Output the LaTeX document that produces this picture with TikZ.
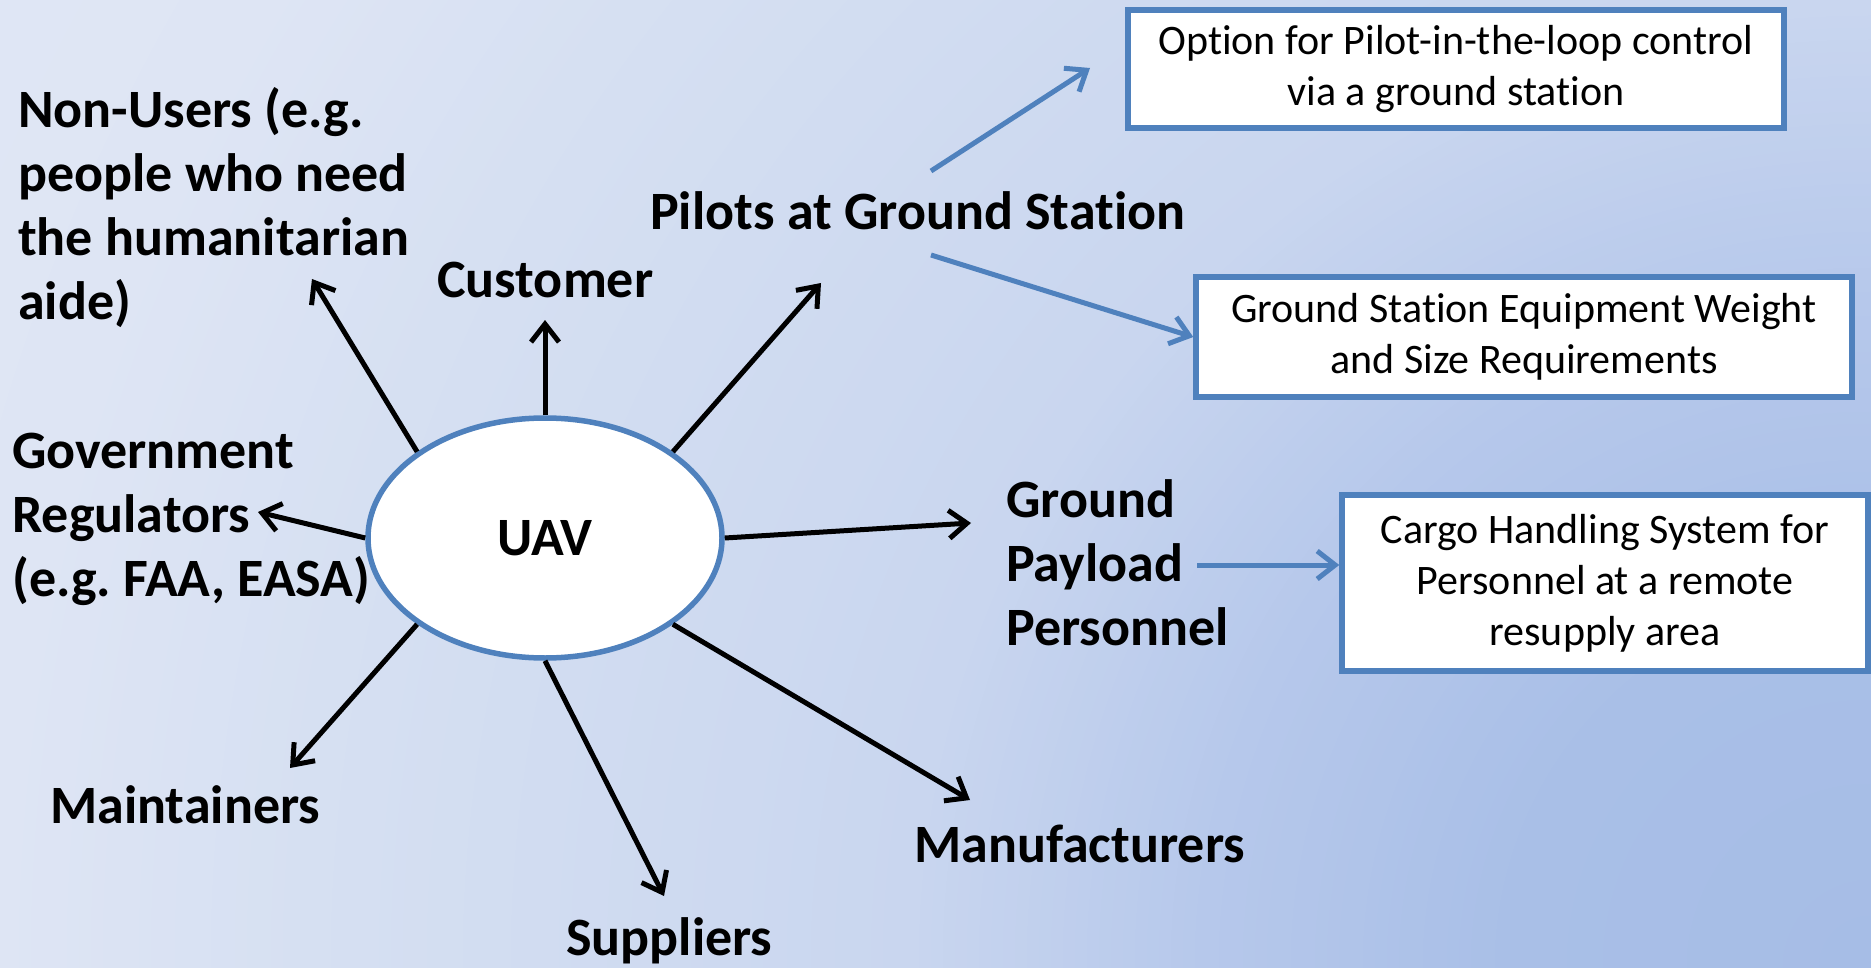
\documentclass[tikz,border=0pt]{standalone}
\usepackage{fontspec}
\setmainfont{Carlito}[Ligatures=NoCommon]
\usetikzlibrary{arrows.meta,shapes.geometric,calc}
\definecolor{oblue}{HTML}{4F81BD}
\newcommand{\biglbl}{\fontsize{54}{64}\selectfont\bfseries}
\newcommand{\boxtxt}{\fontsize{42}{51}\selectfont}
\frenchspacing
\begin{document}
\begin{tikzpicture}[x=1pt,y=-1pt,
  lbl/.style={font=\biglbl, inner sep=0pt, anchor=base west},
  blackarrow/.style={line width=5pt, draw=black, -{Straight Barb[length=18pt,width=28pt]}},
  bluearrow/.style={line width=5pt, draw=oblue, -{Straight Barb[length=18pt,width=28pt]}},
  infobox/.style={draw=oblue, line width=5.5pt, fill=white, font=\boxtxt, align=center, inner sep=0pt}]
\useasboundingbox (0,0) rectangle (1871,968);
% background: radial gradient from the bottom right corner
\begin{scope}
\clip (0,0) rectangle (1871,968);
\foreach \d in {2200,2188,...,0} {
  \pgfmathtruncatemacro{\k}{(\d>369)+(\d>669)+(\d>969)+(\d>1569)+(\d>1870)}
  \pgfmathsetmacro{\f}{(\d-{0,370,670,970,1570,1871}[\k])/({370,300,300,600,301,329}[\k])}
  \pgfmathtruncatemacro{\R}{{166,169,182,201,214,222}[\k]+{3,13,19,13,8,2}[\k]*\f+0.5}
  \pgfmathtruncatemacro{\G}{{189,191,200,214,224,229}[\k]+{2,9,14,10,5,2}[\k]*\f+0.5}
  \pgfmathtruncatemacro{\B}{{230,231,235,239,242,244}[\k]+{1,4,4,3,2,1}[\k]*\f+0.5}
  \definecolor{bgtmp}{RGB}{\R,\G,\B}
  \fill[bgtmp] (1871,968) circle (\d);
}
\end{scope}

% central node
\node[ellipse, draw=oblue, line width=5.5pt, fill=white, minimum width=354pt, minimum height=240pt, inner sep=0pt, font=\biglbl] (uav) at (545,538) {UAV};

% stakeholder labels
\node[lbl] (nonusers) at (18,128) {\begin{tabular}[t]{@{}l@{}}Non-Users (e.g.\\people who need\\the humanitarian\\aide)\end{tabular}};
\node[lbl] (gov) at (12,468) {\begin{tabular}[t]{@{}l@{}}Government\\Regulators\\(e.g. FAA, EASA)\end{tabular}};
\node[lbl] (customer) at (437,298) {Customer};
\node[lbl] (pilots) at (650,230) {Pilots at Ground Station};
\node[lbl] (payload) at (1006,517) {\begin{tabular}[t]{@{}l@{}}Ground\\Payload\\Personnel\end{tabular}};
\node[lbl] (maint) at (50,823) {Maintainers};
\node[lbl] (suppl) at (566,955) {Suppliers};
\node[lbl] (manuf) at (914,862) {Manufacturers};

% boxes
\node[infobox, minimum width=656pt, minimum height=118pt] (box1) at (1456,69) {Option for Pilot-in-the-loop control\\via a ground station};
\node[infobox, minimum width=656pt, minimum height=120pt] (box2) at (1524,337) {Ground Station Equipment Weight\\and Size Requirements};
\node[infobox, minimum width=526pt, minimum height=176pt] (box3) at (1605,583) {Cargo Handling System for\\Personnel at a remote\\resupply area};

% arrow end points
\coordinate (tNon) at (312,279);
\coordinate (tCust) at (545,320);
\coordinate (tPil) at (821,283);
\coordinate (tGov) at (258,512);
\coordinate (tPay) at (971,523);
\coordinate (tMai) at (290,768);
\coordinate (tSup) at (664,896);
\coordinate (tMan) at (970,800);

\draw[blackarrow] (uav.146) -- (tNon);
\draw[blackarrow] (uav.90) -- (tCust);
\draw[blackarrow] (uav.34) -- (tPil);
\draw[blackarrow] (uav.180) -- (tGov);
\draw[blackarrow] (uav.0) -- (tPay);
\draw[blackarrow] (uav.214) -- (tMai);
\draw[blackarrow] (uav.270) -- (tSup);
\draw[blackarrow] (uav.326) -- (tMan);

% blue arrows
\coordinate (pA) at (931,171);
\coordinate (tA) at (1090,68);
\coordinate (pB) at (931,255);
\coordinate (pC) at (1197,565);
\draw[bluearrow] (pA) -- (tA);
\draw[bluearrow] (pB) -- (box2.west);
\draw[bluearrow] (pC) -- (pC -| box3.west);
\end{tikzpicture}
\end{document}
